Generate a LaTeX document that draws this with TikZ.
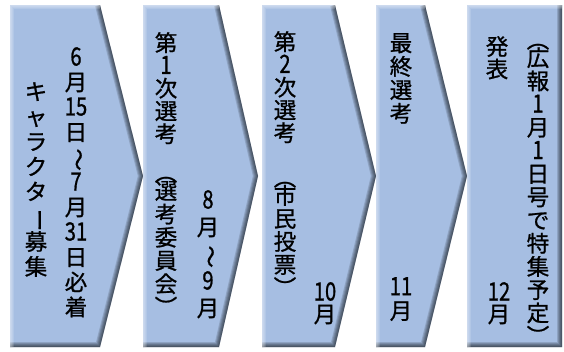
\documentclass[tikz,border=0pt]{standalone}
\usepackage{fontspec}
\usepackage{graphicx}
\newfontfamily\jp[FakeBold=0.9]{Noto Sans CJK JP}
\newcommand\jlp{\rotatebox[origin=c]{-90}{（}}
\newcommand\jrp{\rotatebox[origin=c]{-90}{）}}
\newcommand\jtil{\rotatebox[origin=c]{-90}{～}}
\newcommand\jbar{\rotatebox[origin=c]{-90}{ー}}
\newcommand\jd[1]{\scalebox{0.9}[1.12]{#1}}
\definecolor{boxc}{HTML}{A6BEE2}
\AtBeginDocument{\lineskiplimit=-50pt\relax}
\tikzset{
  tcol/.style={anchor=north, inner sep=0pt, align=center,
    font=\jp\fontsize{22.5}{#1}\selectfont}
}
\newcommand\chev[3]{%
  \fill[boxc] (#1,5) -- (#2,5) -- (#3,176) -- (#2,347) -- (#1,347) -- cycle;
  \begin{scope}
    \clip (#1,5) -- (#2,5) -- (#3,176) -- (#2,347) -- (#1,347) -- cycle;
    \foreach \w in {10,8,6,4,2}
      \draw[black, opacity=0.14, line width=\w pt] (#2,5) -- (#3,176) -- (#2,347) -- (#1,347);
    \foreach \w in {8,6,4,2}
      \draw[white, opacity=0.14, line width=\w pt] (#1,347) -- (#1,5) -- (#2,5);
  \end{scope}}
\begin{document}
\begin{tikzpicture}[x=1pt,y=-1pt]
\useasboundingbox (0,0) rectangle (564,351);
\chev{10}{100}{143}
\chev{143}{219}{258}
\chev{262}{335}{376}
\chev{376}{425}{467}
\chev{467}{562}{562}
% chevron 1
\node[tcol=25] (t1a) at (76,47) {\jd{6}\\月\\\jd{15}\\日\\\jtil\\\jd{7}\\月\\\jd{31}\\日\\必\\着};
\node[tcol=25] (t1b) at (36,82) {キ\\ャ\\ラ\\ク\\タ\\\jbar\\募\\集};
% chevron 2
\node[tcol=22.75] (t2a) at (166,32) {第\\\jd{1}\\次\\選\\考};
\node[tcol=23.25] (t2b) at (166,161) {\jlp\\[-5pt]選\\考\\委\\員\\会\\\jrp};
\node[tcol=27] (t2c) at (208,190) {\jd{8}\\月\\\jtil\\\jd{9}\\月};
% chevron 3
\node[tcol=22.75] (t3a) at (285,31) {第\\\jd{2}\\次\\選\\考};
\node[tcol=23] (t3b) at (285,166) {\jlp\\[-5pt]市\\民\\投\\票\\\jrp};
\node[tcol=22] (t3c) at (325,282) {\jd{10}\\月};
% chevron 4
\node[tcol=23.5] (t4a) at (401,33) {最\\終\\選\\考};
\node[tcol=24] (t4b) at (401,277) {\jd{11}\\月};
% chevron 5
\node[tcol=22.5] (t5a) at (497,36) {発\\表};
\node[tcol=22] (t5b) at (499,282) {\jd{12}\\月};
\node[tcol=23.2] (t5c) at (538,28) {\jlp\\[-5pt]広\\報\\\jd{1}\\月\\\jd{1}\\日\\号\\で\\特\\集\\予\\定\\\jrp};
\end{tikzpicture}
\end{document}
